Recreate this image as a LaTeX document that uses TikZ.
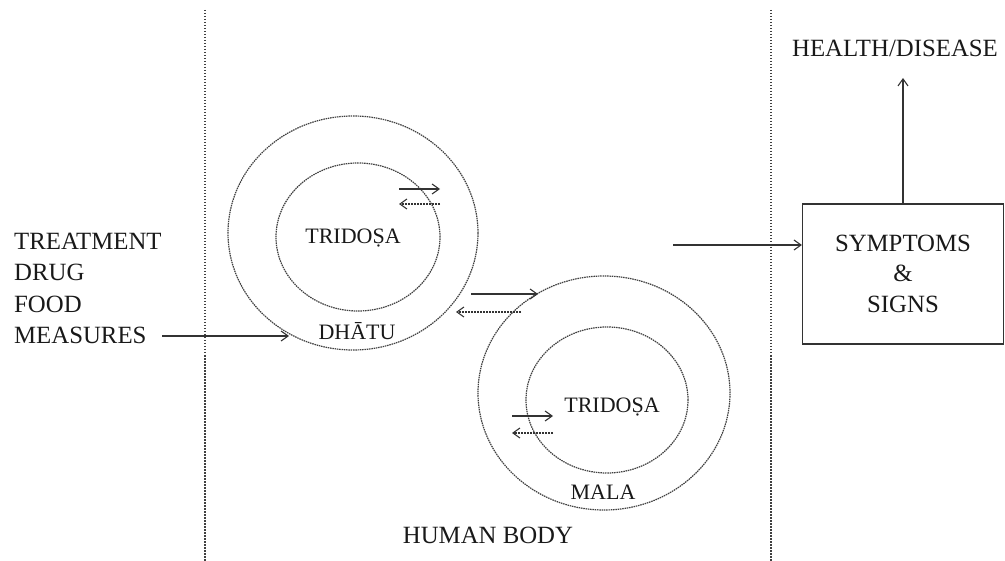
\documentclass[tikz,border=0pt]{standalone}
\usepackage{fontspec}
\setmainfont{Liberation Serif}
\usetikzlibrary{arrows.meta,shapes.geometric}
\begin{document}
\begin{tikzpicture}[x=1pt,y=-1pt,
  ln/.style={draw=black!80, line width=1.1pt},
  tip/.style={-{Straight Barb[length=7pt,width=10pt,line width=1.1pt]}},
  dotline/.style={draw=black!75, line width=1.3pt, dash pattern=on 1.5pt off 1.5pt},
  ring/.style={ellipse, draw=black!75, line width=1.2pt, dash pattern=on 1.5pt off 0.8pt, inner sep=0pt},
  big/.style={font=\fontsize{24.8}{31}\selectfont, inner sep=0pt, text=black!90},
  small/.style={font=\fontsize{22}{26}\selectfont, inner sep=0pt, text=black!90},
  dsh/.style={dash pattern=on 2pt off 1pt}]
\useasboundingbox (0,0) rectangle (1005,561);
% dividers
\coordinate (d1t) at (205,10); \coordinate (d1b) at (205,561);
\coordinate (d2t) at (771,10); \coordinate (d2b) at (771,561);
\draw[dotline] (d1t) -- (d1b);
\draw[dotline] (d2t) -- (d2b);
% left texts
\node[big, anchor=base west] (treat) at (14,250) {TREATMENT};
\node[big, anchor=base west] (drug) at (14,281) {DRUG};
\node[big, anchor=base west] (food) at (14,313) {FOOD};
\node[big, anchor=base west] (meas) at (14,344) {MEASURES};
% dhatu rings
\node[ring, minimum width=250pt, minimum height=234pt] (dhatuO) at (353,233) {};
\node[ring, minimum width=164pt, minimum height=148pt] (dhatuI) at (358,237) {};
\node[small, anchor=base] (tri1) at (353,244) {TRIDOṢA};
\node[small, anchor=base] (dhatu) at (357,340) {DHĀTU};
% mala rings
\node[ring, minimum width=252pt, minimum height=234pt] (malaO) at (604,393) {};
\node[ring, minimum width=162pt, minimum height=146pt] (malaI) at (607,400) {};
\node[small, anchor=base] (tri2) at (612,413) {TRIDOṢA};
\node[small, anchor=base] (mala) at (603,500) {MALA};
% human body
\node[big, anchor=base] (human) at (488,543) {HUMAN BODY};
% box
\node[draw=black!80, line width=1.2pt, minimum width=201pt, minimum height=140pt, big, align=center] (box) at (903,274) {SYMPTOMS\\[-1pt]\&\\SIGNS};
\node[big, anchor=base] (health) at (895,57) {HEALTH/DISEASE};
% arrows
\coordinate (m1) at (162,336); \coordinate (m2) at (289,336);
\draw[ln,tip] (m1) -- (m2);
\coordinate (s1) at (673,245);
\draw[ln,tip] (s1) -- (s1 -| box.west);
\coordinate (h1) at (903,78);
\draw[ln,tip] (box.north) -- (h1);
% dhatu inner pair
\coordinate (a1) at (399,189); \coordinate (a2) at (440,189);
\coordinate (a3) at (440,204); \coordinate (a4) at (399,204);
\draw[ln,tip] (a1) -- (a2);
\draw[ln,tip,dsh] (a3) -- (a4);
% between rings pair
\coordinate (b1) at (471,294); \coordinate (b2) at (538,294);
\coordinate (b3) at (521,312); \coordinate (b4) at (456,312);
\draw[ln,tip] (b1) -- (b2);
\draw[ln,tip,dsh] (b3) -- (b4);
% mala inner pair
\coordinate (c1) at (512,416); \coordinate (c2) at (553,416);
\coordinate (c3) at (553,433); \coordinate (c4) at (512,433);
\draw[ln,tip] (c1) -- (c2);
\draw[ln,tip,dsh] (c3) -- (c4);
\end{tikzpicture}
\end{document}
